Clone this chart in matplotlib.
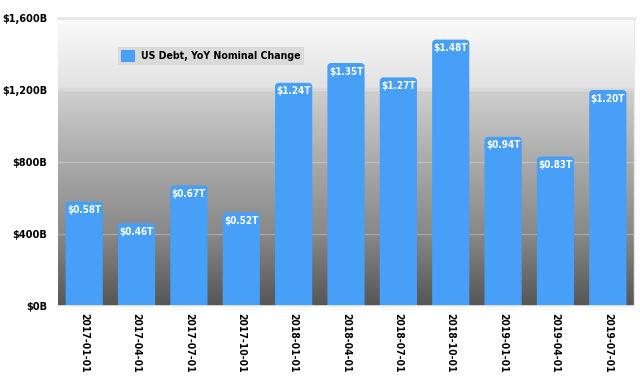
import numpy as np
import matplotlib
matplotlib.use("Agg")
import matplotlib.pyplot as plt
from matplotlib.patches import FancyBboxPatch, Patch
from matplotlib.colors import LinearSegmentedColormap

# Data (billions of dollars)
dates = ["2017-01-01", "2017-04-01", "2017-07-01", "2017-10-01", "2018-01-01",
         "2018-04-01", "2018-07-01", "2018-10-01", "2019-01-01", "2019-04-01",
         "2019-07-01"]
values = [580, 460, 670, 520, 1240, 1350, 1270, 1480, 940, 830, 1200]
labels = ["$0.58T", "$0.46T", "$0.67T", "$0.52T", "$1.24T", "$1.35T",
          "$1.27T", "$1.48T", "$0.94T", "$0.83T", "$1.20T"]
yticks = [0, 400, 800, 1200, 1600]
ytick_labels = ["$0B", "$400B", "$800B", "$1,200B", "$1,600B"]

plt.rcParams["font.family"] = ["DejaVu Sans"]
plt.rcParams["font.stretch"] = "condensed"
plt.rcParams["font.weight"] = "bold"

bar_color = "#479ff8"

fig = plt.figure(figsize=(6.4, 3.78), dpi=100)
ax = fig.add_axes([58 / 640, 1 - 306 / 378, 576 / 640, 288 / 378])

x = np.arange(len(dates))

# gradient background, dark at the bottom, white at the top
grad = LinearSegmentedColormap.from_list(
    "bg", [(0.0, "#565656"), (0.25, "#888888"), (0.5, "#aaaaaa"),
           (0.75, "#cfcfcf"), (0.76, "#e2e2e2"), (1.0, "#fbfbfb")])
ax.imshow(np.linspace(0, 1, 512).reshape(-1, 1), cmap=grad, aspect="auto", origin="lower",
          extent=(-0.5, len(dates) - 0.5, 0, 1600), zorder=0)
ax.set_xlim(-0.5, len(dates) - 0.5)
ax.set_ylim(0, 1600)

# grid lines
for t in yticks[1:]:
    if t == 1600:
        ax.axhline(t, color="#e8e8e8", lw=2.0, zorder=1, clip_on=False)
    else:
        ax.axhline(t, color="#ffffff", lw=1.0, alpha=0.25, zorder=1)

# rounded bars
w = 0.71
r_px = 4.0
px_x = 576 / len(dates)
px_y = 288 / 1600
rx = r_px / px_x
for xi, v, lab in zip(x, values, labels):
    p = FancyBboxPatch((xi - w / 2, -60), w, v + 60,
                       boxstyle=f"round,pad=0,rounding_size={rx}",
                       mutation_aspect=px_x / px_y,
                       fc=bar_color, ec="none", zorder=2, clip_on=True)
    ax.add_patch(p)
    ax.text(xi, v - 20, lab, ha="center", va="top", color="white",
            fontsize=7.1, fontweight="bold", zorder=3)

ax.set_yticks(yticks)
ax.set_yticklabels(ytick_labels, fontsize=7.8, fontweight="bold")
ax.set_xticks(x)
ax.set_xticklabels(dates, rotation=-90, fontsize=7.4, fontweight="bold")
ax.tick_params(length=0)
ax.tick_params(axis="x", pad=5)
ax.tick_params(axis="y", pad=8)
for s in ["top", "left"]:
    ax.spines[s].set_visible(False)
ax.spines["right"].set_color("#e8e8e8")
ax.spines["right"].set_linewidth(1.0)
ax.spines["bottom"].set_color("#f0f0f0")
ax.spines["bottom"].set_linewidth(1.2)

leg = ax.legend(handles=[Patch(fc=bar_color, ec="none")],
                labels=["US Debt, YoY Nominal Change"],
                loc="upper left", bbox_to_anchor=(60 / 576, 259 / 288), frameon=True,
                fancybox=False, fontsize=7.6, handlelength=1.3, handleheight=1.3,
                borderpad=0.3, handletextpad=0.6, borderaxespad=0)
leg.get_frame().set_facecolor("#dadada")
leg.get_frame().set_edgecolor("none")
leg.get_frame().set_alpha(1)

fig.savefig("out.png", dpi=100)
